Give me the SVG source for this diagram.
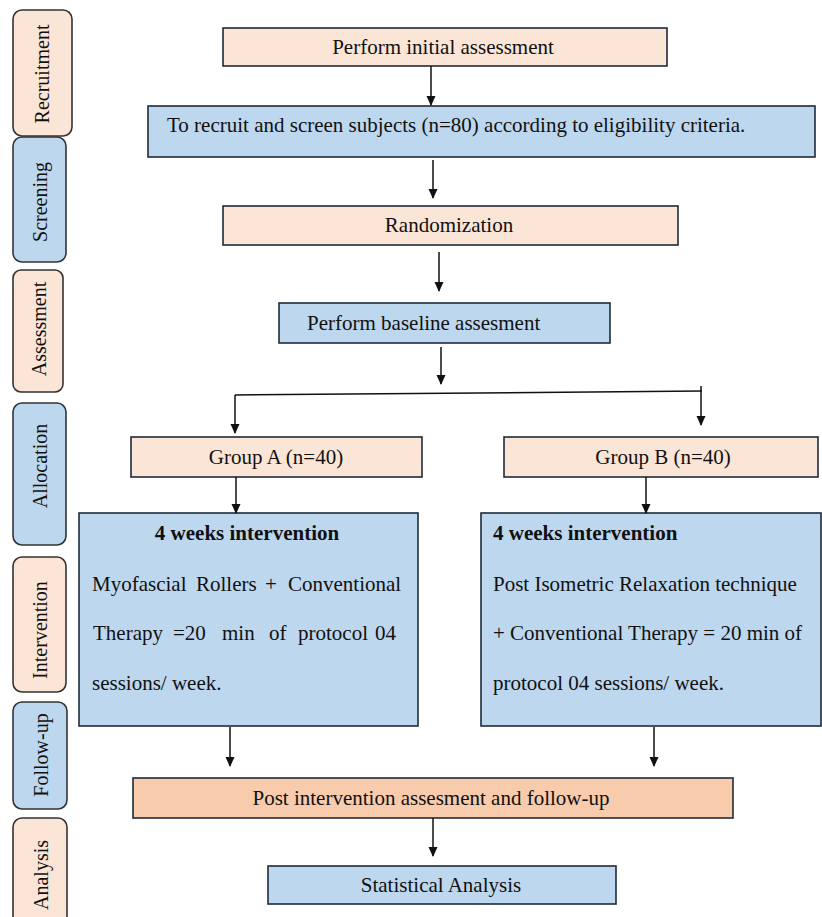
<svg xmlns="http://www.w3.org/2000/svg" width="822" height="917" viewBox="0 0 822 917">
<style>
text{font-family:"Liberation Serif","Times New Roman",serif;font-size:21px;fill:#111}
.pe{fill:#fbe5d6}
.bl{fill:#bdd7ee}
.or{fill:#f8cbad}
.box{stroke:#1e2a3a;stroke-width:1.6}
.side{stroke:#333;stroke-width:1.6}
.st{font-size:20px}
.c{text-anchor:middle}
.b{font-weight:bold}
.ln{stroke:#111;stroke-width:1.5;fill:none}
</style>
<defs>
<marker id="ah" markerWidth="10" markerHeight="10" refX="9" refY="5" orient="auto" markerUnits="userSpaceOnUse">
<path d="M0,0.5 L10,5 L0,9.5 Z" fill="#111"/>
</marker>
</defs>
<rect width="822" height="917" fill="#fff"/>
<g id="side-recruitment"><rect class="side pe" x="13" y="10" width="59" height="126" rx="9"/><text class="c st" transform="translate(49,74) rotate(-90)">Recruitment</text></g>
<g id="side-screening"><rect class="side bl" x="13" y="137" width="53" height="125" rx="9"/><text class="c st" transform="translate(47,202) rotate(-90)">Screening</text></g>
<g id="side-assessment"><rect class="side pe" x="13" y="270" width="50" height="122" rx="8"/><text class="c st" transform="translate(46,329) rotate(-90)">Assessment</text></g>
<g id="side-allocation"><rect class="side bl" x="13" y="403" width="53" height="142" rx="9"/><text class="c st" transform="translate(47,466) rotate(-90)">Allocation</text></g>
<g id="side-intervention"><rect class="side pe" x="13" y="557" width="53" height="135" rx="9"/><text class="c st" transform="translate(47,630) rotate(-90)">Intervention</text></g>
<g id="side-followup"><rect class="side bl" x="13" y="702" width="54" height="107" rx="9"/><text class="c st" transform="translate(48,755) rotate(-90)">Follow-up</text></g>
<g id="side-analysis"><rect class="side pe" x="13" y="818" width="54" height="110" rx="9"/><text class="c st" transform="translate(48,875) rotate(-90)">Analysis</text></g>

<g id="n-initial"><rect class="box pe" x="223" y="28" width="444" height="38"/><text class="c" x="443" y="54">Perform initial assessment</text></g>
<g id="n-recruit"><rect class="box bl" x="148" y="106" width="667" height="51"/><text x="167" y="132">To recruit and screen subjects (n=80) according to eligibility criteria.</text></g>
<g id="n-random"><rect class="box pe" x="223" y="206" width="455" height="39"/><text class="c" x="449" y="232">Randomization</text></g>
<g id="n-baseline"><rect class="box bl" x="279" y="303" width="331" height="40"/><text x="307" y="330">Perform baseline assesment</text></g>
<g id="n-groupA"><rect class="box pe" x="131" y="437" width="291" height="40"/><text class="c" x="276" y="464">Group A (n=40)</text></g>
<g id="n-groupB"><rect class="box pe" x="504" y="437" width="314" height="40"/><text class="c" x="663" y="464">Group B (n=40)</text></g>
<g id="n-intA"><rect class="box bl" x="79" y="513" width="339" height="213"/>
<text class="c b" x="247" y="540">4 weeks intervention</text>
<text y="591"><tspan x="92">Myofascial</tspan><tspan x="196">Rollers</tspan><tspan x="265">+</tspan><tspan x="288">Conventional</tspan></text>
<text y="640"><tspan x="93">Therapy</tspan><tspan x="173">=20</tspan><tspan x="222">min</tspan><tspan x="269">of</tspan><tspan x="298">protocol</tspan><tspan x="375">04</tspan></text>
<text x="92" y="690">sessions/ week.</text>
</g>
<g id="n-intB"><rect class="box bl" x="481" y="513" width="340" height="213"/>
<text class="b" x="493" y="540">4 weeks intervention</text>
<text x="493" y="591">Post Isometric Relaxation technique</text>
<text x="493" y="640">+ Conventional Therapy = 20 min of</text>
<text x="493" y="690">protocol 04 sessions/ week.</text>
</g>
<g id="n-post"><rect class="box or" x="133" y="778" width="600" height="40"/><text class="c" x="431" y="805">Post intervention assesment and follow-up</text></g>
<g id="n-stats"><rect class="box bl" x="268" y="866" width="348" height="38"/><text class="c" x="441" y="892">Statistical Analysis</text></g>

<g id="connectors">
<line class="ln" x1="431" y1="66" x2="431" y2="105" marker-end="url(#ah)"/>
<line class="ln" x1="433" y1="160" x2="433" y2="198" marker-end="url(#ah)"/>
<line class="ln" x1="439" y1="252" x2="439" y2="291" marker-end="url(#ah)"/>
<line class="ln" x1="441" y1="347" x2="441" y2="384" marker-end="url(#ah)"/>
<polyline class="ln" points="235,395 702,391"/>
<line class="ln" x1="235" y1="395" x2="235" y2="433" marker-end="url(#ah)"/>
<line class="ln" x1="701" y1="386" x2="701" y2="425" marker-end="url(#ah)"/>
<line class="ln" x1="236" y1="477" x2="236" y2="513" marker-end="url(#ah)"/>
<line class="ln" x1="646" y1="477" x2="646" y2="513" marker-end="url(#ah)"/>
<line class="ln" x1="230" y1="727" x2="230" y2="766" marker-end="url(#ah)"/>
<line class="ln" x1="654" y1="727" x2="654" y2="766" marker-end="url(#ah)"/>
<line class="ln" x1="433" y1="818" x2="433" y2="856" marker-end="url(#ah)"/>
</g>
</svg>
